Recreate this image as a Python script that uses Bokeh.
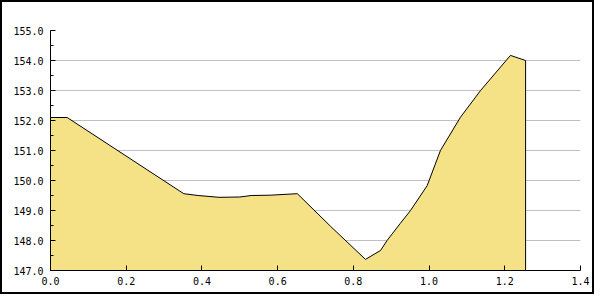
from bokeh.plotting import figure
from bokeh.models import Range1d, FixedTicker, PrintfTickFormatter
from bokeh.embed import file_html
from bokeh.resources import INLINE

x_vals = [0.0, 0.044, 0.352, 0.39, 0.445, 0.50, 0.53, 0.58, 0.652, 0.74, 0.832,
          0.872, 0.889, 0.924, 0.951, 0.995, 1.03, 1.083, 1.136, 1.215, 1.255]
y_vals = [152.1, 152.1, 149.56, 149.5, 149.44, 149.45, 149.5, 149.51, 149.56, 148.47, 147.37,
          147.67, 148.0, 148.57, 149.0, 149.83, 151.0, 152.11, 153.0, 154.17, 154.0]
x_ticks = [0.0, 0.2, 0.4, 0.6, 0.8, 1.0, 1.2, 1.4]
y_ticks = [147, 148, 149, 150, 151, 152, 153, 154, 155]
y_minor = [147.5, 148.5, 149.5, 150.5, 151.5, 152.5, 153.5, 154.5]
baseline = 147.0

p = figure(width=594, height=294, output_backend="svg", toolbar_location=None,
           x_range=Range1d(0, 1.4), y_range=Range1d(147, 155),
           min_border_left=48, min_border_right=16, min_border_top=28, min_border_bottom=26)
p.styles = {"border": "2px solid black"}
p.outline_line_color = None
p.background_fill_color = "white"
p.border_fill_color = "white"

p.varea(x=x_vals, y1=[baseline] * len(x_vals), y2=y_vals, fill_color="#F6E286")
p.line(x=x_vals + [x_vals[-1]], y=y_vals + [baseline], line_color="black", line_width=1)

font = "DejaVu Sans Mono"
p.xgrid.visible = False
p.ygrid.grid_line_color = "#C0C0C0"
p.ygrid.grid_line_width = 1

for ax in (p.xaxis[0], p.yaxis[0]):
    ax.major_label_text_font = font
    ax.major_label_text_font_size = "10px"
    ax.major_label_text_color = "black"
    ax.axis_line_color = "black"
    ax.major_tick_line_color = "black"
    ax.minor_tick_line_color = "black"
    ax.major_tick_out = 0
    ax.major_tick_in = 5
    ax.minor_tick_out = 0
    ax.formatter = PrintfTickFormatter(format="%.1f")

p.xaxis[0].ticker = FixedTicker(ticks=x_ticks)
p.xaxis[0].minor_tick_line_color = None
p.xaxis[0].major_label_standoff = 6
p.yaxis[0].ticker = FixedTicker(ticks=y_ticks, minor_ticks=y_minor)
p.yaxis[0].minor_tick_in = 3
p.yaxis[0].major_label_standoff = 7

open("out.html", "w").write(file_html(p, INLINE))
